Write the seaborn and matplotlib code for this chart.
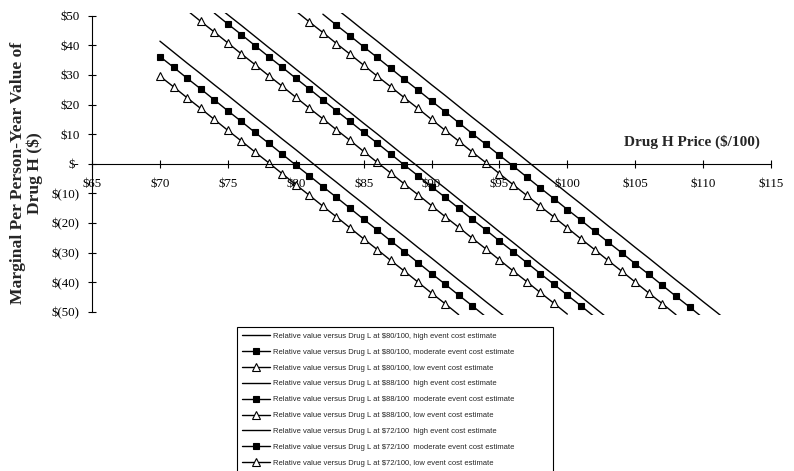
import matplotlib
matplotlib.use('Agg')
import matplotlib.pyplot as plt
import numpy as np
import seaborn as sns

# Marginal per person-year value of Drug H ($) against Drug H price ($/100)
# each series: first price, then values at $1 steps
v80_high_start = 74
v80_high = [54.0, 50.3, 46.7, 43.0, 39.3, 35.7, 32.0, 28.4, 24.7, 21.0, 17.4, 13.7, 10.1, 6.4, 2.7,
            -0.9, -4.6, -8.2, -11.9, -15.6, -19.2, -22.9, -26.5, -30.2, -33.9, -37.5, -41.2, -44.8, -48.5, -52.2]
v80_mod_start = 74
v80_mod = [50.9, 47.2, 43.6, 39.9, 36.2, 32.6, 28.9, 25.3, 21.6, 17.9, 14.3, 10.6, 7.0, 3.3, -0.4,
           -4.0, -7.7, -11.3, -15.0, -18.7, -22.3, -26.0, -29.6, -33.3, -37.0, -40.6, -44.3, -47.9, -51.6]
v80_low_start = 72
v80_low = [51.8, 48.1, 44.5, 40.8, 37.1, 33.5, 29.8, 26.2, 22.5, 18.8, 15.2, 11.5, 7.9, 4.2, 0.5,
           -3.1, -6.8, -10.4, -14.1, -17.8, -21.4, -25.1, -28.7, -32.4, -36.1, -39.7, -43.4, -47.0, -50.7]

v88_high_start = 83
v88_high = [52.3, 48.7, 45.0, 41.4, 37.7, 34.0, 30.4, 26.7, 23.1, 19.4, 15.7, 12.1, 8.4, 4.8, 1.1,
            -2.6, -6.2, -9.9, -13.5, -17.2, -20.9, -24.5, -28.2, -31.8, -35.5, -39.2, -42.8, -46.5, -50.1, -53.8]
v88_mod_start = 82
v88_mod = [50.5, 46.8, 43.2, 39.5, 35.9, 32.2, 28.5, 24.9, 21.2, 17.6, 13.9, 10.2, 6.6, 2.9, -0.7,
           -4.4, -8.1, -11.7, -15.4, -19.0, -22.7, -26.4, -30.0, -33.7, -37.3, -41.0, -44.7, -48.3, -52.0]
v88_low_start = 80
v88_low = [51.6, 47.9, 44.3, 40.6, 37.0, 33.3, 29.6, 26.0, 22.3, 18.7, 15.0, 11.3, 7.7, 4.0, 0.4,
           -3.3, -7.0, -10.6, -14.3, -17.9, -21.6, -25.3, -28.9, -32.6, -36.2, -39.9, -43.6, -47.2, -50.9]

v72_high_start = 70
v72_high = [41.4, 37.7, 34.0, 30.4, 26.7, 23.1, 19.4, 15.7, 12.1, 8.4, 4.8, 1.1, -2.6, -6.2,
            -9.9, -13.5, -17.2, -20.9, -24.5, -28.2, -31.8, -35.5, -39.2, -42.8, -46.5, -50.1, -53.8]
v72_mod_start = 70
v72_mod = [36.2, 32.6, 28.9, 25.3, 21.6, 17.9, 14.3, 10.6, 7.0, 3.3, -0.4, -4.0, -7.7,
           -11.3, -15.0, -18.7, -22.3, -26.0, -29.6, -33.3, -37.0, -40.6, -44.3, -47.9, -51.6]
v72_low_start = 70
v72_low = [29.6, 26.0, 22.3, 18.7, 15.0, 11.3, 7.7, 4.0, 0.4, -3.3, -7.0, -10.6,
           -14.3, -17.9, -21.6, -25.3, -28.9, -32.6, -36.2, -39.9, -43.6, -47.2, -50.9]

labels = [
    "Relative value versus Drug L at $80/100, high event cost estimate",
    "Relative value versus Drug L at $80/100, moderate event cost estimate",
    "Relative value versus Drug L at $80/100, low event cost estimate",
    "Relative value versus Drug L at $88/100  high event cost estimate",
    "Relative value versus Drug L at $88/100  moderate event cost estimate",
    "Relative value versus Drug L at $88/100, low event cost estimate",
    "Relative value versus Drug L at $72/100  high event cost estimate",
    "Relative value versus Drug L at $72/100  moderate event cost estimate",
    "Relative value versus Drug L at $72/100, low event cost estimate",
]
series = [
    (v80_high_start, v80_high, "high"), (v80_mod_start, v80_mod, "moderate"), (v80_low_start, v80_low, "low"),
    (v88_high_start, v88_high, "high"), (v88_mod_start, v88_mod, "moderate"), (v88_low_start, v88_low, "low"),
    (v72_high_start, v72_high, "high"), (v72_mod_start, v72_mod, "moderate"), (v72_low_start, v72_low, "low"),
]

x_ticks = [65, 70, 75, 80, 85, 90, 95, 100, 105, 110, 115]
x_tick_labels = ["$65", "$70", "$75", "$80", "$85", "$90", "$95", "$100", "$105", "$110", "$115"]
y_ticks = [-50, -40, -30, -20, -10, 0, 10, 20, 30, 40, 50]
y_tick_labels = ["$(50)", "$(40)", "$(30)", "$(20)", "$(10)", "$-", "$10", "$20", "$30", "$40", "$50"]

sns.set_style("white")
plt.rcParams['font.family'] = ['Liberation Serif', 'DejaVu Serif']
plt.rcParams['text.parse_math'] = False

fig = plt.figure(figsize=(7.94, 4.71), dpi=100)
ax = fig.add_axes([0.1159, 0.3312, 0.8552, 0.6418])

styles = {
    "high": dict(marker=None),
    "moderate": dict(marker="s", markersize=4.8, markerfacecolor="black", markeredgecolor="black", mew=0.8),
    "low": dict(marker="^", markersize=5.3, markerfacecolor="white", markeredgecolor="black", mew=0.8),
}

for (start, vals, kind), lab in zip(series, labels):
    xs = np.arange(start, start + len(vals))
    ys = np.array(vals)
    kw = dict(styles[kind])
    if kw["marker"] is not None:
        kw["markevery"] = list(np.abs(ys) <= 50)
    sns.lineplot(x=xs, y=ys, ax=ax, color="black", lw=1.0, errorbar=None, label=lab, **kw)

ax.set_xlim(65, 115)
ax.set_ylim(-51, 51)

for s in ["top", "right"]:
    ax.spines[s].set_visible(False)
ax.spines["bottom"].set_position(("data", 0))
ax.spines["left"].set_bounds(-50, 50)
for s in ["bottom", "left"]:
    ax.spines[s].set_color("black")
    ax.spines[s].set_linewidth(0.8)

ax.set_xticks(x_ticks)
ax.set_xticklabels(x_tick_labels, fontsize=9.3)
ax.set_yticks(y_ticks)
ax.set_yticklabels(y_tick_labels, fontsize=9.3)
ax.tick_params(axis="x", bottom=True, direction="inout", length=6, width=0.8, pad=7, colors="black")
ax.tick_params(axis="y", left=True, direction="inout", length=6, width=0.8, pad=6, colors="black")

ax.set_xlabel("Drug H Price ($/100)", fontsize=11, fontweight="bold", va="center")
ax.xaxis.set_label_coords(0.883, 0.572)
ax.set_ylabel("Marginal Per Person-Year Value of\nDrug H ($)", fontsize=12.6, fontweight="bold",
              va="center", ha="center", linespacing=1.05)
ax.yaxis.set_label_coords(-0.096, 0.47)

handles, labs = ax.get_legend_handles_labels()
leg = ax.legend(handles, labs, loc="upper left",
                bbox_to_anchor=(237 / 794, 1 - 327 / 471, (553 - 237) / 794, 0.0),
                bbox_transform=fig.transFigure, mode="expand", borderaxespad=0,
                prop={"family": "Liberation Sans", "size": 5.5},
                frameon=True, fancybox=False, edgecolor="black", framealpha=1,
                labelspacing=1.12, handlelength=3.6, handletextpad=0.4, borderpad=0.7)
leg.get_frame().set_linewidth(0.8)

fig.savefig("out.png", dpi=100)
